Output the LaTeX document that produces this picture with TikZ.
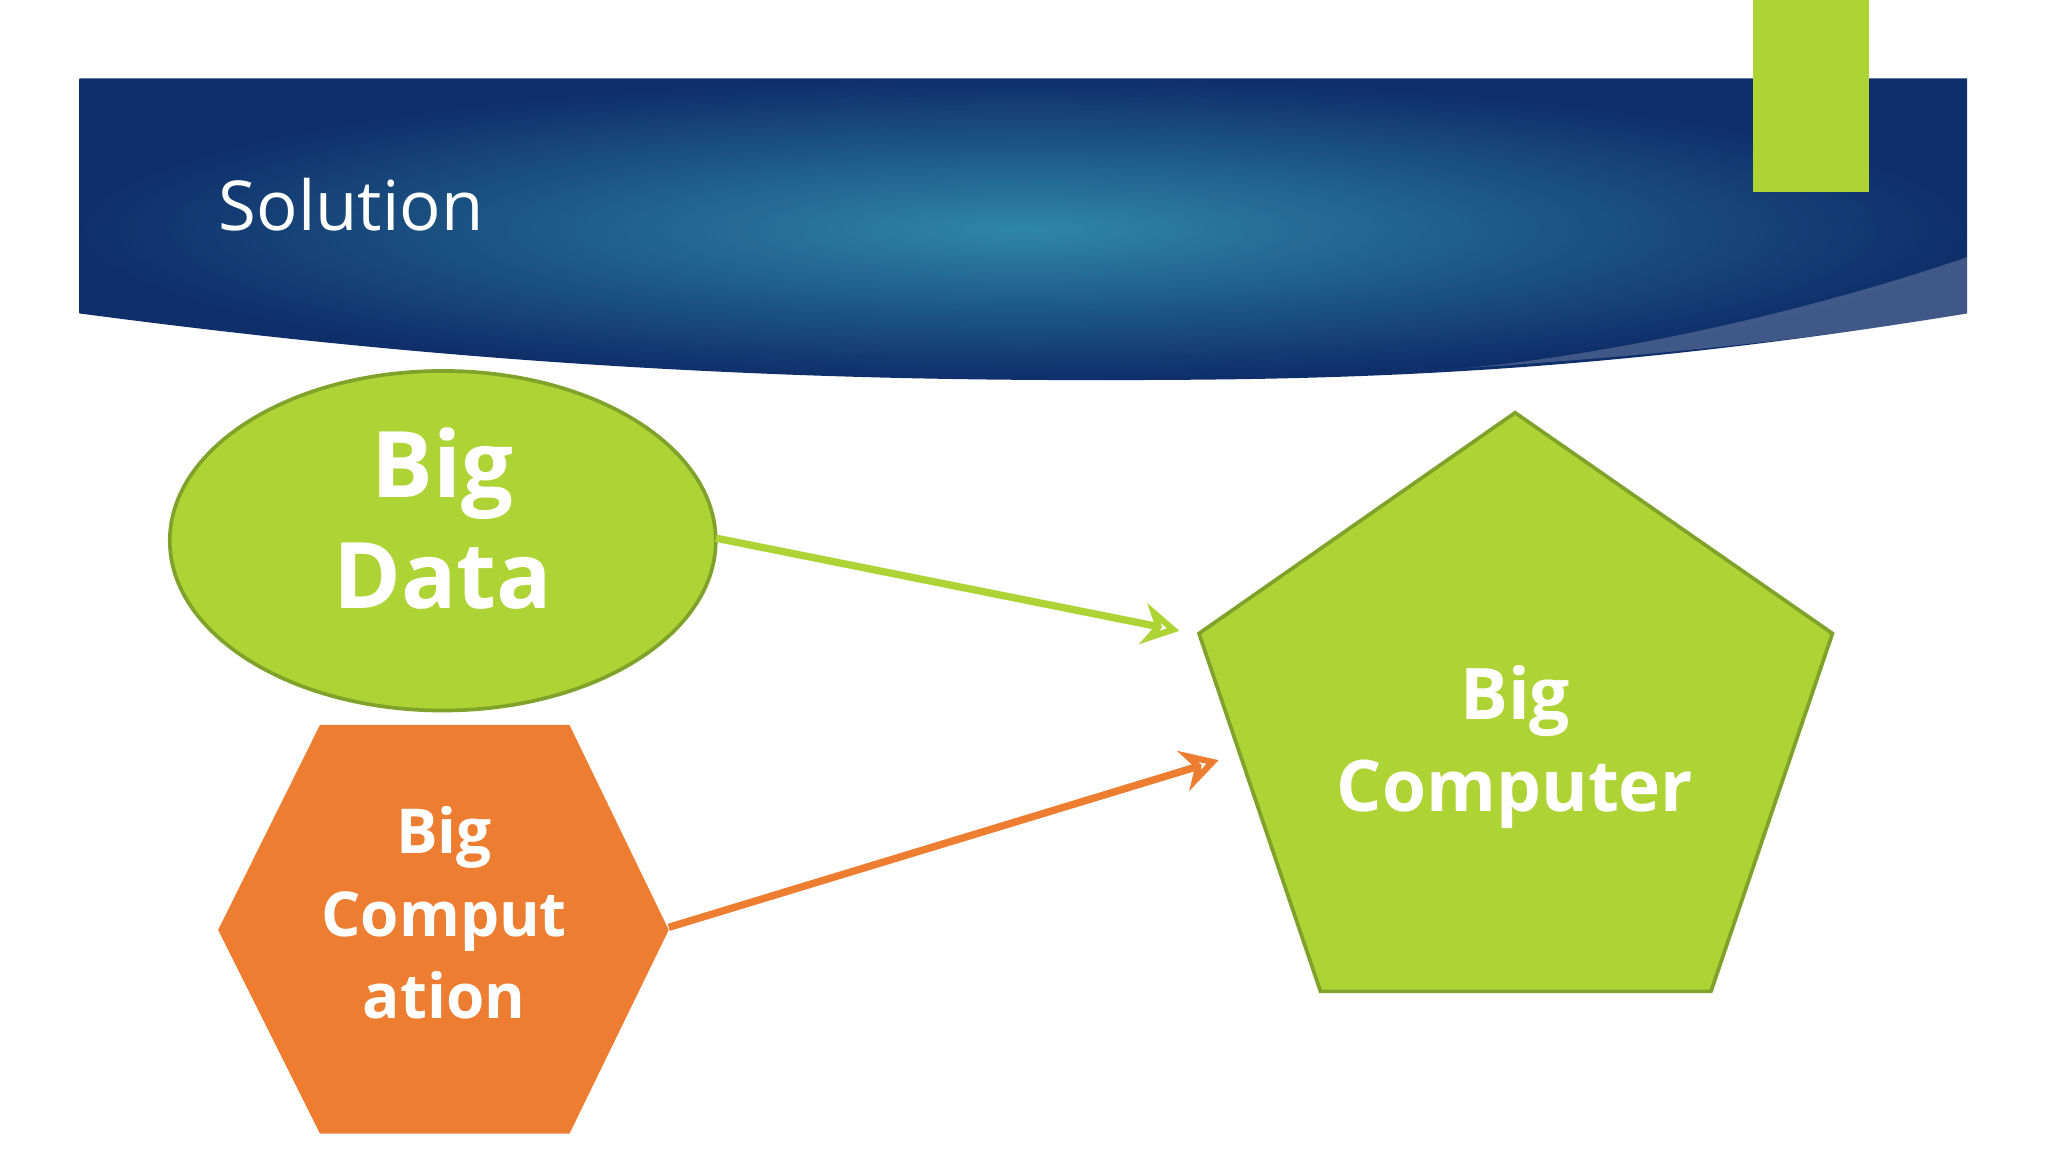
\documentclass[tikz,border=0pt]{standalone}
\usepackage{fontspec}
\setmainfont{Open Sans}
\usetikzlibrary{arrows.meta}
\definecolor{lgreen}{HTML}{ADD335}
\definecolor{dgreen}{HTML}{7FA22A}
\definecolor{orng}{HTML}{ED7D31}
\definecolor{navy}{HTML}{0F2F6A}
\definecolor{teal}{HTML}{2E86A8}
\tikzset{
  lbl/.style={text=white,font=\bfseries,align=center},
  conn/.style={line width=1.6pt,-{Stealth[length=8pt,width=9pt,open]}}
}
\begin{document}
\begin{tikzpicture}[x=0.01cm,y=-0.01cm]
\useasboundingbox[fill=white] (0,0) rectangle (1568,882);
% banner
\shade[inner color=teal,outer color=navy] (61,60) -- (1506,60) -- (1506,240) .. controls (1200,290) and (1000,291) .. (830,291) .. controls (500,291) and (250,265) .. (61,240) -- cycle;
\fill[white,opacity=0.2] (1506,197) .. controls (1350,250) and (1200,275) .. (1120,282) .. controls (1300,270) and (1420,255) .. (1506,240) -- cycle;
\node[anchor=west,text=white,font=\fontsize{15}{18}\selectfont] (title) at (155,157) {Solution};
\fill[lgreen] (1342,0) rectangle (1431,147);
% shapes
\draw[fill=lgreen,draw=dgreen,line width=0.8pt] (339,414) ellipse [x radius=209,y radius=130];
\node[lbl,font=\bfseries\fontsize{20}{24}\selectfont] (data) at (339,397) {Big\\Data};
\coordinate (dataE) at (548,412);
\fill[orng] (245,555) -- (436,555) -- (512,712) -- (436,868) -- (245,868) -- (167,712) -- cycle;
\node[lbl,font=\bfseries\fontsize{13.5}{18}\selectfont] (comp) at (340,699) {Big\\Comput\\ation};
\coordinate (compE) at (512,710);
\draw[fill=lgreen,draw=dgreen,line width=0.8pt] (1160,316) -- (1403,485) -- (1310,759) -- (1011,759) -- (918,485) -- cycle;
\node[lbl,font=\bfseries\fontsize{15.5}{20}\selectfont] (pc) at (1160,572) {Big\\Computer};
\coordinate (pA) at (903,483);
\coordinate (pB) at (933,582);
\draw[conn,lgreen] (dataE) -- (pA);
\draw[conn,orng] (compE) -- (pB);
\end{tikzpicture}
\end{document}
